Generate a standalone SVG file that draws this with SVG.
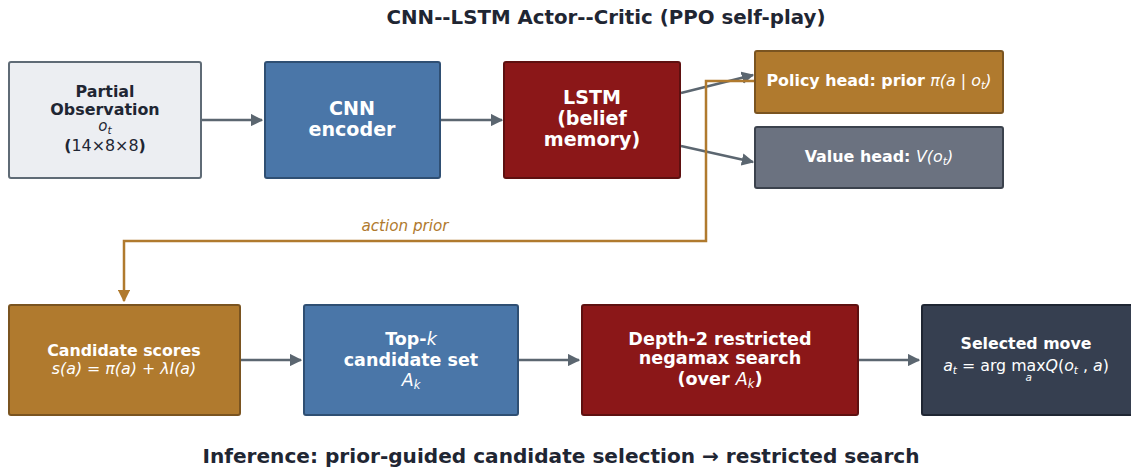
<svg xmlns="http://www.w3.org/2000/svg" width="1131" height="467" viewBox="0 0 1131 467">
<defs>
<marker id="ag" viewBox="0 0 10 10" refX="9" refY="5" markerWidth="5" markerHeight="5" orient="auto" markerUnits="strokeWidth"><path d="M0,0 L10,5 L0,10 z" fill="#5b6670"/></marker>
<marker id="ao" viewBox="0 0 10 10" refX="9" refY="5" markerWidth="5" markerHeight="5" orient="auto" markerUnits="strokeWidth"><path d="M0,0 L10,5 L0,10 z" fill="#b07a2e"/></marker>
</defs>
<style>
text{font-family:"DejaVu Sans",sans-serif;text-anchor:middle}
.b{font-weight:bold}
.w{fill:#ffffff}
.d{fill:#1f2633}
.i{font-style:italic;font-weight:normal}
.box{stroke-width:2}
.con{fill:none;stroke:#5b6670;stroke-width:2.5;marker-end:url(#ag)}
</style>
<rect width="1131" height="467" fill="#ffffff"/>
<text class="b d" x="606" y="24" font-size="19.8">CNN--LSTM Actor--Critic (PPO self-play)</text>
<g id="connectors">
<line class="con" x1="201" y1="120" x2="262" y2="120"/>
<line class="con" x1="440" y1="120" x2="502" y2="120"/>
<line class="con" x1="681" y1="93" x2="753" y2="75"/>
<line class="con" x1="681" y1="146" x2="753" y2="162"/>
<line class="con" x1="240" y1="360" x2="301" y2="360"/>
<line class="con" x1="518" y1="360" x2="579" y2="360"/>
<line class="con" x1="858" y1="360" x2="919" y2="360"/>
<path d="M755,81 H706 V241 H124 V301" fill="none" stroke="#b07a2e" stroke-width="2.5" marker-end="url(#ao)"/>
<text x="405" y="231" font-size="15.2" fill="#b07a2e" font-style="italic">action prior</text>
</g>
<g id="obs">
<rect class="box" x="9" y="62" width="192" height="116" rx="2" fill="#eceef2" stroke="#5f6b76"/>
<text class="b d" x="105" y="97" font-size="15.9">Partial</text>
<text class="b d" x="105" y="115" font-size="15.9">Observation</text>
<text class="d" x="105" y="131" font-size="15" font-style="italic">o<tspan font-size="10.5" dy="2.5">t</tspan></text>
<text class="d" x="105" y="151" font-size="15.9"><tspan font-weight="bold">(</tspan>14×8×8<tspan font-weight="bold">)</tspan></text>
</g>
<g id="cnn">
<rect class="box" x="265" y="62" width="175" height="116" rx="2" fill="#4a76a8" stroke="#2f4f73"/>
<text class="b w" x="352" y="115" font-size="19.1">CNN</text>
<text class="b w" x="352" y="136" font-size="19.1">encoder</text>
</g>
<g id="lstm">
<rect class="box" x="504" y="62" width="176" height="116" rx="2" fill="#8b1718" stroke="#5e1010"/>
<text class="b w" x="592" y="104" font-size="19.1">LSTM</text>
<text class="b w" x="592" y="125" font-size="19.1">(belief</text>
<text class="b w" x="592" y="146" font-size="19.1">memory)</text>
</g>
<g id="policy">
<rect class="box" x="755" y="51" width="248" height="62" rx="2" fill="#b07a2e" stroke="#7a5420"/>
<text class="b w" x="879" y="86" font-size="15.9">Policy head: prior <tspan class="i">π(a</tspan><tspan font-weight="normal"> | </tspan><tspan class="i">o<tspan font-size="11" dy="3">t</tspan><tspan dy="-3">)</tspan></tspan></text>
</g>
<g id="value">
<rect class="box" x="755" y="127" width="248" height="61" rx="2" fill="#6b7280" stroke="#3b424d"/>
<text class="b w" x="879" y="162" font-size="15.9">Value head: <tspan class="i">V(o<tspan font-size="11" dy="3">t</tspan><tspan dy="-3">)</tspan></tspan></text>
</g>
<g id="cand">
<rect class="box" x="9" y="305" width="231" height="110" rx="2" fill="#b07a2e" stroke="#7a5420"/>
<text class="b w" x="124" y="356" font-size="15.8">Candidate scores</text>
<text class="w i" x="124" y="374" font-size="15.8">s(a) = π(a) + λI(a)</text>
</g>
<g id="topk">
<rect class="box" x="304" y="305" width="214" height="110" rx="2" fill="#4a76a8" stroke="#2f4f73"/>
<text class="b w" x="411" y="345" font-size="17.5">Top-<tspan class="i">k</tspan></text>
<text class="b w" x="411" y="366" font-size="17.5">candidate set</text>
<text class="w i" x="411" y="386" font-size="17.5">A<tspan font-size="11.5" dy="3">k</tspan></text>
</g>
<g id="search">
<rect class="box" x="582" y="305" width="276" height="110" rx="2" fill="#8b1718" stroke="#5e1010"/>
<text class="b w" x="720" y="345" font-size="17.6">Depth-2 restricted</text>
<text class="b w" x="720" y="364" font-size="17.6">negamax search</text>
<text class="b w" x="720" y="385" font-size="17.6">(over <tspan class="i">A<tspan font-size="11.5" dy="3">k</tspan></tspan><tspan dy="-3">)</tspan></text>
</g>
<g id="move">
<rect class="box" x="922" y="305" width="215" height="110" rx="2" fill="#363f50" stroke="#1f2633"/>
<text class="b w" x="1026" y="349" font-size="15.8">Selected move</text>
<text class="w" x="1026" y="371" font-size="15.8"><tspan font-style="italic">a</tspan><tspan font-size="10.5" dy="3" font-style="italic">t</tspan><tspan dy="-3"> = arg max</tspan><tspan font-size="10.5" font-style="italic" dx="-20" dy="10">a</tspan><tspan font-style="italic" dx="13.5" dy="-10">Q</tspan>(<tspan font-style="italic">o</tspan><tspan font-size="10.5" dy="3" font-style="italic">t</tspan><tspan dy="-3"> , </tspan><tspan font-style="italic">a</tspan>)</text>
</g>
<text class="b d" x="561" y="463" font-size="20.1">Inference: prior-guided candidate selection → restricted search</text>
</svg>
